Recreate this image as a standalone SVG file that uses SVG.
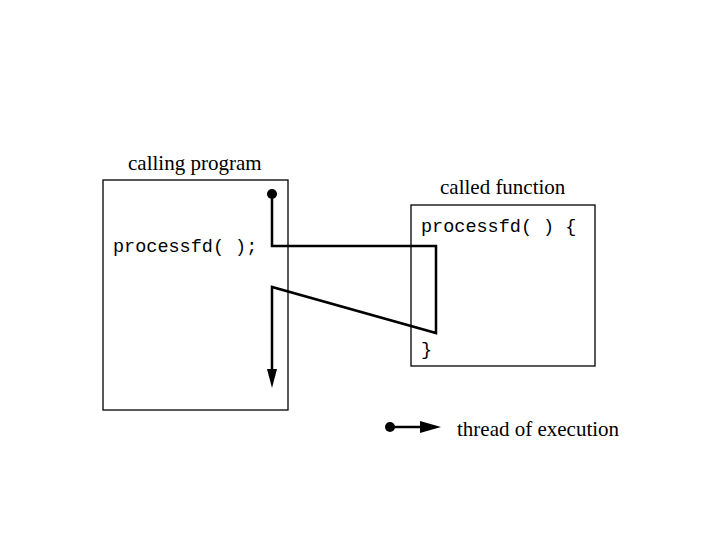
<svg xmlns="http://www.w3.org/2000/svg" width="720" height="540" viewBox="0 0 720 540">
<style>
.box{fill:none;stroke:#000;stroke-width:1.3}
.thr{fill:none;stroke:#000;stroke-width:2.5}
.lbl{font-family:"Liberation Serif",serif;font-size:21px;fill:#000}
.code{font-family:"Liberation Mono",monospace;font-size:18.5px;fill:#000}
</style>
<rect width="720" height="540" fill="#fff"/>
<g id="calling">
<rect class="box" x="103" y="180" width="185" height="230"/>
<text class="lbl" x="128" y="170">calling program</text>
<text class="code" x="113" y="252">processfd( );</text>
</g>
<g id="called">
<rect class="box" x="411" y="205" width="184" height="161"/>
<text class="lbl" x="440" y="194">called function</text>
<text class="code" x="421" y="232">processfd( ) {</text>
<text class="code" x="421" y="355">}</text>
</g>
<g id="connectors">
<circle cx="272" cy="194" r="5"/>
<polyline class="thr" points="272,194 272,246 436,246 436,333 272,287 272,370" />
<path d="M267,369 L277,369 L272,388 Z" fill="#000"/>
</g>
<g id="legend">
<circle cx="390" cy="427" r="5"/>
<line x1="390" y1="427" x2="422" y2="427" stroke="#000" stroke-width="2.5"/>
<path d="M420,421 L441,427 L420,433 Z" fill="#000"/>
<text class="lbl" x="457" y="436">thread of execution</text>
</g>
</svg>
